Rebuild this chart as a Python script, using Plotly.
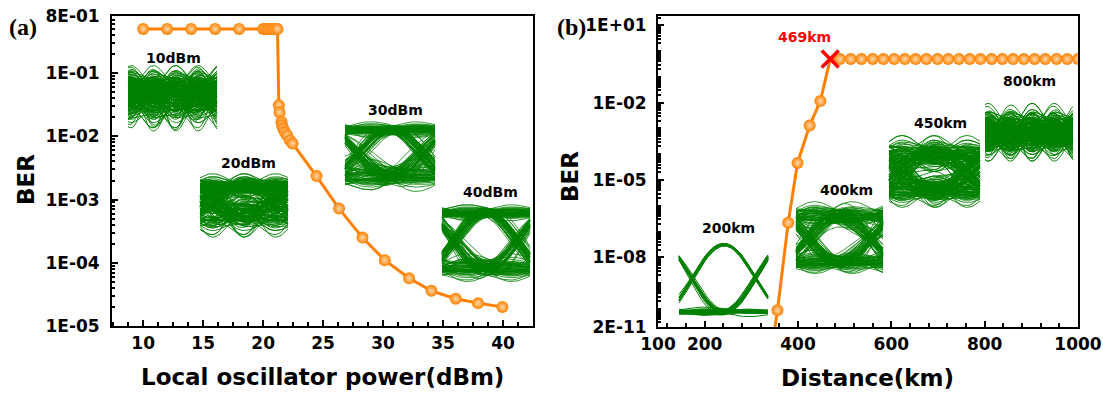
import math
import plotly.graph_objects as go

# ---------------- data ----------------
# (a) BER versus local oscillator power
LO_POWER_DBM = [10, 12, 14, 16, 18, 20.0, 20.2, 20.4, 20.6, 20.8, 21.0, 21.2,
                21.31, 21.37, 21.53, 21.58, 21.67, 21.81, 22.0, 22.23, 22.45,
                24.45, 26.33, 28.28, 30.14, 32.17, 34.03, 36.06, 37.92, 39.95]
BER_LO = [0.5, 0.5, 0.5, 0.5, 0.5, 0.5, 0.5, 0.5, 0.5, 0.5, 0.5, 0.5,
          3.1e-2, 2.4e-2, 1.7e-2, 1.5e-2, 1.33e-2, 1.17e-2, 1.04e-2, 8.7e-3, 7.7e-3,
          2.35e-3, 7.2e-4, 2.5e-4, 1.1e-4, 5.7e-5, 3.6e-5, 2.7e-5, 2.3e-5, 2.0e-5]

# (b) BER versus transmission distance
DISTANCE_KM = [340, 356, 379, 399, 425, 448, 469,
               490, 513, 536, 560, 583, 606, 629, 652, 675, 699, 722, 745,
               768, 791, 815, 838, 861, 884, 907, 930, 954, 977, 1000]
BER_DIST = [1e-12, 8.9e-11, 2.2e-7, 4.6e-5, 1.3e-3, 1.15e-2, 0.49,
            0.49, 0.49, 0.49, 0.49, 0.49, 0.49, 0.49, 0.49, 0.49, 0.49, 0.49, 0.49,
            0.49, 0.49, 0.49, 0.49, 0.49, 0.49, 0.49, 0.49, 0.49, 0.49, 0.49]
THRESHOLD_KM = 469
THRESHOLD_BER = 0.49

# tick labels
X_TICKS_A = [10, 15, 20, 25, 30, 35, 40]
Y_TICKS_A = [0.8, 1e-1, 1e-2, 1e-3, 1e-4, 1e-5]
Y_TICKTEXT_A = ["8E-01", "1E-01", "1E-02", "1E-03", "1E-04", "1E-05"]
X_TICKS_B = [100, 200, 400, 600, 800, 1000]
Y_TICKS_B = [10, 1e-2, 1e-5, 1e-8, 2e-11]
Y_TICKTEXT_B = ["1E+01", "1E-02", "1E-05", "1E-08", "2E-11"]

# eye-diagram inset ingredients: bit patterns and a table of amplitude deviations
BIT_PATTERNS = [(0, 0, 0), (0, 0, 1), (0, 1, 0), (0, 1, 1),
                (1, 0, 0), (1, 0, 1), (1, 1, 0), (1, 1, 1)]
CLEAN_PATTERNS = [(0, 1, 0), (1, 0, 1), (0, 0, 0), (0, 0, 1), (1, 0, 0)]
EYE_NOISE = [0.31, -0.72, 1.05, -0.18, 0.56, -1.21, 0.09, 0.84, -0.47, -0.93,
             0.22, 1.38, -0.36, 0.67, -0.05, -1.54, 0.45, 0.98, -0.64, 0.13,
             -0.27, 1.72, -0.81, 0.39, 0.74, -0.12, -1.08, 0.58, -0.42, 0.26,
             1.16, -0.69, 0.03, -0.88, 0.51, -0.21, 1.93, -0.57, 0.35, -1.33,
             0.62, -0.08, 0.91, -0.39, -0.76, 0.18, -2.05, 0.47]

# ---------------- styling / geometry ----------------
W, H = 1103, 397
ML, MR, MT, MB = 112, 25, 16, 70
PW, PH = W - ML - MR, H - MT - MB          # plotting area in px
ORANGE = "#FF8000"
GREEN = "rgb(0,128,0)"
FONT = "DejaVu Sans"

# inset placement, in page pixels
EYES = [
    dict(label="10dBm", x=(128, 217), levels=(86, 102), sigma=(15, 10), knot=0.35,
         jitter=0.05, variants=24, patterns=BIT_PATTERNS, seed=0, lw=0.9, text=(173, 58)),
    dict(label="20dBm", x=(200, 288), levels=(186, 214), sigma=(12, 6), knot=0.5,
         jitter=0.06, variants=24, patterns=BIT_PATTERNS, seed=5, lw=0.9, text=(248, 163)),
    dict(label="30dBm", x=(345, 435), levels=(130, 176), sigma=(8, 4), knot=0.7,
         jitter=0.05, variants=22, patterns=BIT_PATTERNS, seed=9, lw=0.8, text=(395, 110)),
    dict(label="40dBm", x=(442, 530), levels=(213, 268), sigma=(7, 4), knot=0.7,
         jitter=0.04, variants=22, patterns=BIT_PATTERNS, seed=14, lw=0.8, text=(490, 192)),
    dict(label="200km", x=(679, 768), levels=(244, 312), sigma=(2.4, 2.2), knot=0.7,
         jitter=0.015, variants=10, patterns=CLEAN_PATTERNS, seed=3, lw=1.0, text=(728, 228)),
    dict(label="400km", x=(796, 883), levels=(216, 262), sigma=(6, 7), knot=0.6,
         jitter=0.05, variants=22, patterns=BIT_PATTERNS, seed=21, lw=0.8, text=(846, 190)),
    dict(label="450km", x=(889, 980), levels=(154, 190), sigma=(9, 9), knot=0.5,
         jitter=0.06, variants=24, patterns=BIT_PATTERNS, seed=27, lw=0.9, text=(940, 123)),
    dict(label="800km", x=(985, 1073), levels=(128, 138), sigma=(12, 12), knot=0.35,
         jitter=0.05, variants=24, patterns=BIT_PATTERNS, seed=33, lw=0.9, text=(1029, 81)),
]


def pulse(u):
    """Raised-cosine interpolation kernel (partition of unity for unit spacing)."""
    return math.cos(math.pi * u / 2) ** 2 if abs(u) < 1 else 0.0


def eye_path(eye):
    """Overlay of waveform slices (1.4 bit periods wide) for one eye inset."""
    xl, xr = eye["x"]
    y_one, y_zero = eye["levels"]
    sig_zero, sig_one = eye["sigma"]
    step = eye["knot"]
    nk = int(round(2 / step)) + 2
    npts = 45
    n = len(EYE_NOISE)
    xs, ys = [], []
    for i in range(eye["variants"]):
        for p, bits in enumerate(eye["patterns"]):
            base = i * 13 + p * 7 + eye["seed"]
            dt = eye["jitter"] * EYE_NOISE[(i * 17 + p * 11 + 3 + eye["seed"]) % n]
            for m in range(npts):
                t = -0.7 + 1.4 * m / (npts - 1)
                level = sum(b * pulse(t + dt - (k - 1)) for k, b in enumerate(bits))
                dev = sum(EYE_NOISE[(base + 5 * j) % n] * pulse((t + 1 - j * step) / step)
                          for j in range(nk))
                sig = sig_zero + (sig_one - sig_zero) * level
                xs.append(xl + (t + 0.7) / 1.4 * (xr - xl))
                ys.append(y_zero + (y_one - y_zero) * level + sig * dev)
            xs.append(None)
            ys.append(None)
    return xs, ys


def px(x):
    return (x - ML) / PW


def py(y):
    return (H - MB - y) / PH


marker_style = dict(size=12, color=ORANGE, line=dict(width=0),
                    gradient=dict(type="radial", color="#FFD8A8"))

fig = go.Figure()

# (a) curve
fig.add_trace(go.Scatter(x=LO_POWER_DBM, y=BER_LO, mode="lines+markers",
                         line=dict(color=ORANGE, width=3), marker=marker_style,
                         xaxis="x", yaxis="y"))

# (b) curve: line through all points, spheres except at the threshold cross
fig.add_trace(go.Scatter(x=DISTANCE_KM, y=BER_DIST, mode="lines",
                         line=dict(color=ORANGE, width=3), xaxis="x2", yaxis="y2"))
sx = [d for d in DISTANCE_KM if d != THRESHOLD_KM]
sy = [b for d, b in zip(DISTANCE_KM, BER_DIST) if d != THRESHOLD_KM]
fig.add_trace(go.Scatter(x=sx, y=sy, mode="markers", marker=marker_style,
                         xaxis="x2", yaxis="y2"))
fig.add_trace(go.Scatter(x=[THRESHOLD_KM], y=[THRESHOLD_BER], mode="markers",
                         marker=dict(symbol="x-thin", size=17, color="red",
                                     line=dict(color="red", width=3.5)),
                         xaxis="x2", yaxis="y2"))

# eye-diagram insets on a pixel-space overlay
for eye in EYES:
    ex, ey = eye_path(eye)
    fig.add_trace(go.Scatter(x=ex, y=ey, mode="lines",
                             line=dict(color=GREEN, width=eye["lw"]),
                             xaxis="x3", yaxis="y3", hoverinfo="skip"))

tickfont = dict(family=FONT, size=17, color="black", weight="bold")
axis_common = dict(showline=True, linecolor="black", linewidth=2, mirror=True,
                   ticks="inside", ticklen=6, tickwidth=2, tickcolor="black",
                   showgrid=False, zeroline=False, tickfont=tickfont,
                   ticklabeloverflow="allow", automargin=False)

fig.update_layout(
    width=W, height=H,
    margin=dict(l=ML, r=MR, t=MT, b=MB),
    paper_bgcolor="white", plot_bgcolor="rgba(0,0,0,0)",
    showlegend=False,
    xaxis=dict(domain=[0, 421 / PW], range=[7.4, 42.5], anchor="y",
               tickvals=X_TICKS_A, ticklabelstandoff=1,
               minor=dict(ticks="inside", ticklen=4, tickwidth=1.5, tickcolor="black",
                          dtick=1.25, tick0=0),
               **axis_common),
    yaxis=dict(domain=[1 / PH, 1], type="log", range=[-5, math.log10(0.8)], anchor="x",
               tickvals=Y_TICKS_A, ticktext=Y_TICKTEXT_A, ticklabelstandoff=7,
               minor=dict(ticks="inside", ticklen=3, tickwidth=1.5, tickcolor="black",
                          dtick="D1"),
               **axis_common),
    xaxis2=dict(domain=[546 / PW, 1], range=[100, 1000], anchor="y2",
                tickvals=X_TICKS_B, ticklabelstandoff=1,
                minor=dict(ticks="inside", ticklen=4, tickwidth=1.5, tickcolor="black",
                           dtick=40, tick0=0),
                **axis_common),
    yaxis2=dict(domain=[0, 1], type="log", range=[math.log10(2e-11), 1.36], anchor="x2",
                tickvals=Y_TICKS_B, ticktext=Y_TICKTEXT_B, ticklabelstandoff=6,
                minor=dict(ticks="inside", ticklen=3, tickwidth=1.5, tickcolor="black",
                           dtick="D1"),
                **axis_common),
    xaxis3=dict(domain=[0, 1], range=[ML, W - MR], visible=False, anchor="y3",
                fixedrange=True, automargin=False),
    yaxis3=dict(domain=[0, 1], range=[H - MB, MT], visible=False, anchor="x3",
                fixedrange=True, automargin=False),
)

annotations = []
title_font = dict(family=FONT, size=23, color="black", weight="bold")
annotations.append(dict(text="Local oscillator power(dBm)", x=px(322.5), y=py(377),
                        xref="paper", yref="paper", showarrow=False, font=title_font,
                        xanchor="center", yanchor="middle"))
annotations.append(dict(text="Distance(km)", x=px(867.5), y=py(378),
                        xref="paper", yref="paper", showarrow=False, font=title_font,
                        xanchor="center", yanchor="middle"))
annotations.append(dict(text="BER", x=px(26), y=py(180), textangle=-90,
                        xref="paper", yref="paper", showarrow=False, font=title_font,
                        xanchor="center", yanchor="middle"))
annotations.append(dict(text="BER", x=px(570), y=py(177), textangle=-90,
                        xref="paper", yref="paper", showarrow=False, font=title_font,
                        xanchor="center", yanchor="middle"))
panel_font = dict(family="Liberation Serif", size=24, color="black", weight="bold")
annotations.append(dict(text="(a)", x=px(23), y=py(27), xref="paper", yref="paper",
                        showarrow=False, font=panel_font, xanchor="center", yanchor="middle"))
annotations.append(dict(text="(b)", x=px(571), y=py(27), xref="paper", yref="paper",
                        showarrow=False, font=panel_font, xanchor="center", yanchor="middle"))

label_font = dict(family=FONT, size=14, color="black", weight="bold")
for eye in EYES:
    annotations.append(dict(text=eye["label"], x=eye["text"][0], y=eye["text"][1],
                            xref="x3", yref="y3", showarrow=False, font=label_font,
                            xanchor="center", yanchor="middle"))
annotations.append(dict(text=f"{THRESHOLD_KM}km", x=804, y=37, xref="x3", yref="y3",
                        showarrow=False,
                        font=dict(family=FONT, size=14, color="red", weight="bold"),
                        xanchor="center", yanchor="middle"))

fig.update_layout(annotations=annotations)
fig.write_html("out.html")
